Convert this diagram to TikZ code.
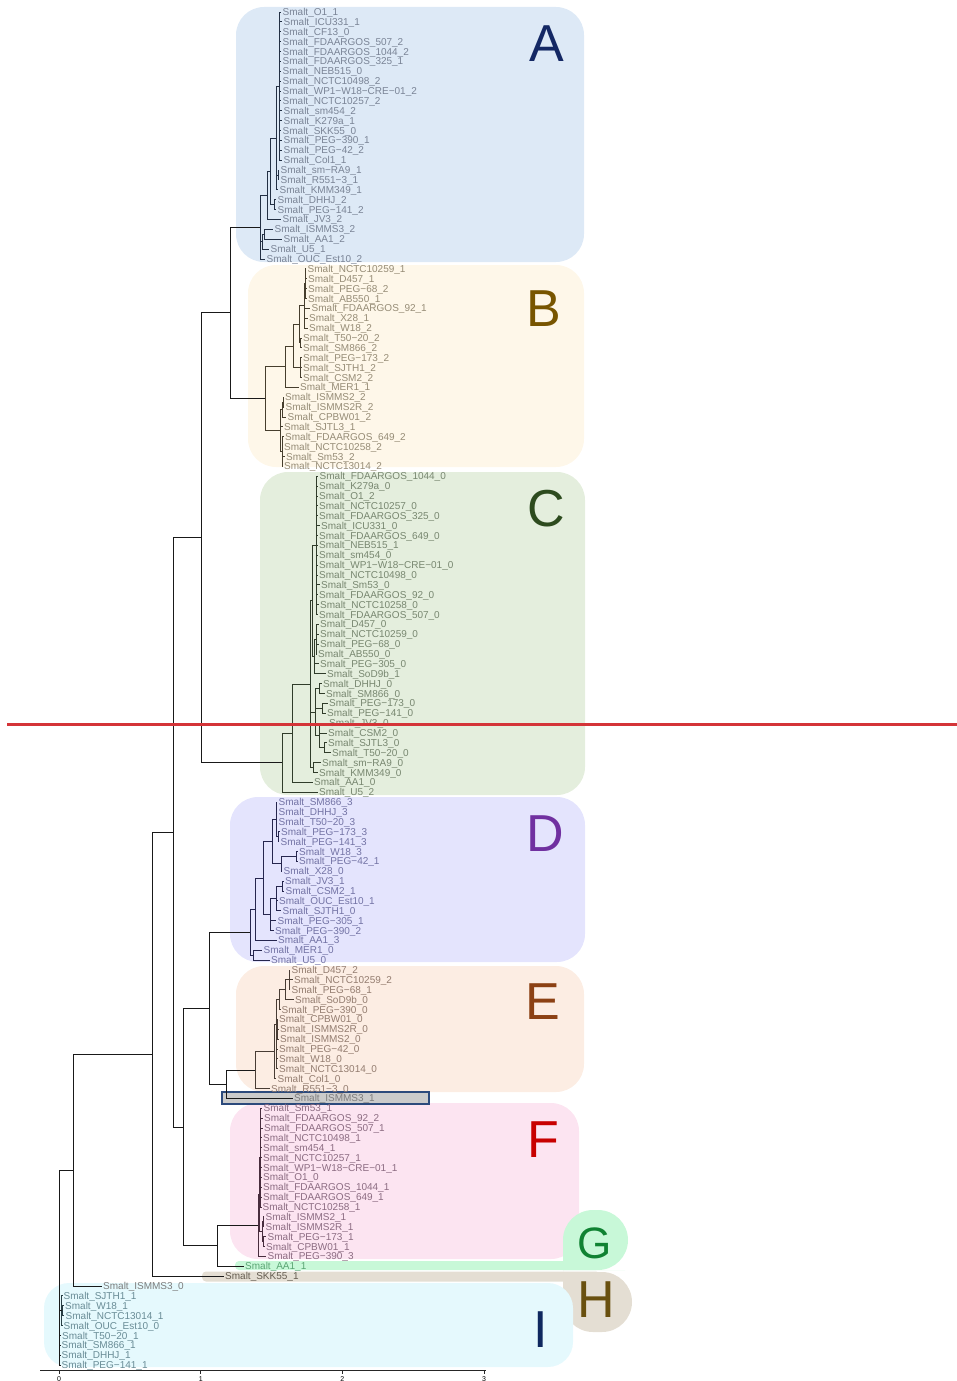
\documentclass[tikz,border=0pt]{standalone}
\usepackage{fontspec}
\setmainfont{Liberation Sans}
\usetikzlibrary{calc}
\definecolor{bgA}{RGB}{221,233,246}\definecolor{bgB}{RGB}{254,247,233}
\definecolor{bgC}{RGB}{228,238,221}\definecolor{bgD}{RGB}{228,228,253}
\definecolor{bgE}{RGB}{252,237,227}\definecolor{bgF}{RGB}{252,228,241}
\definecolor{bgG}{RGB}{200,248,216}\definecolor{bgH}{RGB}{228,222,211}
\definecolor{bgI}{RGB}{229,249,253}
\definecolor{tA}{RGB}{122,132,150}\definecolor{tB}{RGB}{150,140,118}
\definecolor{tC}{RGB}{120,135,112}\definecolor{tD}{RGB}{115,115,165}
\definecolor{tE}{RGB}{148,125,112}\definecolor{tF}{RGB}{140,108,130}
\definecolor{tG}{RGB}{90,165,115}\definecolor{tH}{RGB}{100,92,80}
\definecolor{tI}{RGB}{105,140,150}\definecolor{tN}{RGB}{125,125,125}
\definecolor{lA}{RGB}{35,48,68}\definecolor{lB}{RGB}{70,62,45}
\definecolor{lC}{RGB}{48,60,42}\definecolor{lD}{RGB}{38,38,78}
\definecolor{lE}{RGB}{72,60,52}\definecolor{lF}{RGB}{72,45,62}
\definecolor{lG}{RGB}{20,70,35}\definecolor{lH}{RGB}{60,55,45}
\definecolor{lI}{RGB}{40,62,68}\definecolor{lN}{RGB}{25,25,25}
\definecolor{kA}{RGB}{20,40,100}\definecolor{kB}{RGB}{120,85,0}
\definecolor{kC}{RGB}{45,75,30}\definecolor{kD}{RGB}{112,48,160}
\definecolor{kE}{RGB}{140,65,20}\definecolor{kF}{RGB}{200,0,0}
\definecolor{kG}{RGB}{16,130,50}\definecolor{kH}{RGB}{105,80,15}
\definecolor{kI}{RGB}{15,40,95}
\definecolor{hlfill}{RGB}{203,203,203}\definecolor{hlborder}{RGB}{44,74,124}
\definecolor{redline}{RGB}{212,52,56}
\tikzset{
  lab/.style={font=\fontsize{10}{10}\selectfont,inner sep=0pt,anchor=base west},
  br/.style={line width=0.8pt,line join=miter},
  big/.style={font=\fontsize{52}{52}\selectfont,inner sep=0pt,anchor=center},
  tick/.style={font=\fontsize{7}{7}\selectfont,inner sep=0pt,anchor=north},
}
\newcommand\lf[4]{%
  \coordinate (L#1) at (#2,{12+9.876*#1});
  \node[lab,text=t#4] (T#1) at ([xshift=1.5pt,yshift=-3.6pt]L#1) {Smalt\_#3};}
\newcommand\nd[6]{%
  \path ($(#3)!.5!(#4)$) coordinate (m#1);
  \coordinate (#1) at (#2,0 |- m#1);
  \foreach \ch in {#5} {\draw[br,draw=l#6] (#1) |- (\ch);}}
\newcommand\ndr[5]{%
  \path ($(L#3)!.5!(L#4)$) coordinate (m#1);
  \coordinate (#1) at (#2,0 |- m#1);
  \foreach \ii in {#3,...,#4} {\draw[br,draw=l#5] (#1) |- (L\ii);}}
\begin{document}
\begin{tikzpicture}[x=1pt,y=-1pt]
\useasboundingbox (0,0) rectangle (957,1381);
% backgrounds
\fill[bgA,rounded corners=28] (236,7) rectangle (584,262);
\fill[bgB,rounded corners=28] (248,265) rectangle (584,467);
\fill[bgC,rounded corners=28] (260,472) rectangle (585,795);
\fill[bgD,rounded corners=28] (230,797) rectangle (585,962);
\fill[bgE,rounded corners=28] (236,966) rectangle (584,1092);
\fill[bgF,rounded corners=28] (230,1103) rectangle (579,1259);
\fill[bgG,rounded corners=4] (235,1261) rectangle (600,1270);
\fill[bgG] (563,1270) -- (563,1240) [rounded corners=30] -- (563,1210) -- (628,1210) -- (628,1270) -- (595,1270) [sharp corners] -- cycle;
\fill[bgH,rounded corners=4] (202,1271.5) rectangle (600,1281.5);
\fill[bgH] (563,1272) -- (600,1272) [rounded corners=30] -- (632,1272) -- (632,1332) -- (563,1332) -- (563,1300) [sharp corners] -- cycle;
\fill[bgI,rounded corners=25] (44,1283) rectangle (573,1367);
% highlight
\draw[hlborder,fill=hlfill,line width=2.6pt] (222,1092) rectangle (429,1104);
% leaves A
\lf{0}{281}{O1\_1}{A}
\lf{1}{282}{ICU331\_1}{A}
\lf{2}{281}{CF13\_0}{A}
\lf{3}{281}{FDAARGOS\_507\_2}{A}
\lf{4}{281}{FDAARGOS\_1044\_2}{A}
\lf{5}{281}{FDAARGOS\_325\_1}{A}
\lf{6}{281}{NEB515\_0}{A}
\lf{7}{281}{NCTC10498\_2}{A}
\lf{8}{281}{WP1−W18−CRE−01\_2}{A}
\lf{9}{281}{NCTC10257\_2}{A}
\lf{10}{282}{sm454\_2}{A}
\lf{11}{282}{K279a\_1}{A}
\lf{12}{281}{SKK55\_0}{A}
\lf{13}{282}{PEG−390\_1}{A}
\lf{14}{282}{PEG−42\_2}{A}
\lf{15}{282}{Col1\_1}{A}
\lf{16}{279}{sm−RA9\_1}{A}
\lf{17}{279}{R551−3\_1}{A}
\lf{18}{278}{KMM349\_1}{A}
\lf{19}{276}{DHHJ\_2}{A}
\lf{20}{276}{PEG−141\_2}{A}
\lf{21}{281}{JV3\_2}{A}
\lf{22}{273}{ISMMS3\_2}{A}
\lf{23}{282}{AA1\_2}{A}
\lf{24}{269}{U5\_1}{A}
\lf{25}{265}{OUC\_Est10\_2}{A}
% B
\lf{26}{306}{NCTC10259\_1}{B}
\lf{27}{306.5}{D457\_1}{B}
\lf{28}{306.5}{PEG−68\_2}{B}
\lf{29}{306.5}{AB550\_1}{B}
\lf{30}{310}{FDAARGOS\_92\_1}{B}
\lf{31}{307.5}{X28\_1}{B}
\lf{32}{307.5}{W18\_2}{B}
\lf{33}{301.5}{T50−20\_2}{B}
\lf{34}{301.5}{SM866\_2}{B}
\lf{35}{301.5}{PEG−173\_2}{B}
\lf{36}{301.5}{SJTH1\_2}{B}
\lf{37}{301.5}{CSM2\_2}{B}
\lf{38}{298.5}{MER1\_1}{B}
\lf{39}{283.5}{ISMMS2\_2}{B}
\lf{40}{284}{ISMMS2R\_2}{B}
\lf{41}{286}{CPBW01\_2}{B}
\lf{42}{282.5}{SJTL3\_1}{B}
\lf{43}{283.5}{FDAARGOS\_649\_2}{B}
\lf{44}{282.5}{NCTC10258\_2}{B}
\lf{45}{284.5}{Sm53\_2}{B}
\lf{46}{282.5}{NCTC13014\_2}{B}
% C
\lf{47}{318}{FDAARGOS\_1044\_0}{C}
\lf{48}{317.5}{K279a\_0}{C}
\lf{49}{317.5}{O1\_2}{C}
\lf{50}{317.5}{NCTC10257\_0}{C}
\lf{51}{317.5}{FDAARGOS\_325\_0}{C}
\lf{52}{319.5}{ICU331\_0}{C}
\lf{53}{317.5}{FDAARGOS\_649\_0}{C}
\lf{54}{317.5}{NEB515\_1}{C}
\lf{55}{317.5}{sm454\_0}{C}
\lf{56}{317.5}{WP1−W18−CRE−01\_0}{C}
\lf{57}{317.5}{NCTC10498\_0}{C}
\lf{58}{319.5}{Sm53\_0}{C}
\lf{59}{317.5}{FDAARGOS\_92\_0}{C}
\lf{60}{318.5}{NCTC10258\_0}{C}
\lf{61}{317.5}{FDAARGOS\_507\_0}{C}
\lf{62}{318.5}{D457\_0}{C}
\lf{63}{318.5}{NCTC10259\_0}{C}
\lf{64}{318.5}{PEG−68\_0}{C}
\lf{65}{316.5}{AB550\_0}{C}
\lf{66}{318.5}{PEG−305\_0}{C}
\lf{67}{325.5}{SoD9b\_1}{C}
\lf{68}{321.5}{DHHJ\_0}{C}
\lf{69}{324.5}{SM866\_0}{C}
\lf{70}{327.5}{PEG−173\_0}{C}
\lf{71}{325.5}{PEG−141\_0}{C}
\lf{72}{327.5}{JV3\_0}{C}
\lf{73}{326.5}{CSM2\_0}{C}
\lf{74}{326.5}{SJTL3\_0}{C}
\lf{75}{330.5}{T50−20\_0}{C}
\lf{76}{320.5}{sm−RA9\_0}{C}
\lf{77}{317.5}{KMM349\_0}{C}
\lf{78}{312.5}{AA1\_0}{C}
\lf{79}{317.5}{U5\_2}{C}
% D
\lf{80}{277}{SM866\_3}{D}
\lf{81}{277}{DHHJ\_3}{D}
\lf{82}{277}{T50−20\_3}{D}
\lf{83}{279.5}{PEG−173\_3}{D}
\lf{84}{279}{PEG−141\_3}{D}
\lf{85}{297.5}{W18\_3}{D}
\lf{86}{297.5}{PEG−42\_1}{D}
\lf{87}{282}{X28\_0}{D}
\lf{88}{283.5}{JV3\_1}{D}
\lf{89}{284}{CSM2\_1}{D}
\lf{90}{277.5}{OUC\_Est10\_1}{D}
\lf{91}{281}{SJTH1\_0}{D}
\lf{92}{276}{PEG−305\_1}{D}
\lf{93}{273.5}{PEG−390\_2}{D}
\lf{94}{276.5}{AA1\_3}{D}
\lf{95}{262}{MER1\_0}{D}
\lf{96}{269.5}{U5\_0}{D}
% E
\lf{97}{290}{D457\_2}{E}
\lf{98}{292.5}{NCTC10259\_2}{E}
\lf{99}{290}{PEG−68\_1}{E}
\lf{100}{293.5}{SoD9b\_0}{E}
\lf{101}{280}{PEG−390\_0}{E}
\lf{102}{277.5}{CPBW01\_0}{E}
\lf{103}{278.5}{ISMMS2R\_0}{E}
\lf{104}{278.5}{ISMMS2\_0}{E}
\lf{105}{277.5}{PEG−42\_0}{E}
\lf{106}{277.5}{W18\_0}{E}
\lf{107}{277.5}{NCTC13014\_0}{E}
\lf{108}{276}{Col1\_0}{E}
\lf{109}{269.5}{R551−3\_0}{E}
\lf{110}{292.5}{ISMMS3\_1}{N}
% F
\lf{111}{262}{Sm53\_1}{F}
\lf{112}{262.5}{FDAARGOS\_92\_2}{F}
\lf{113}{262.5}{FDAARGOS\_507\_1}{F}
\lf{114}{261.5}{NCTC10498\_1}{F}
\lf{115}{261.5}{sm454\_1}{F}
\lf{116}{261.5}{NCTC10257\_1}{F}
\lf{117}{261.5}{WP1−W18−CRE−01\_1}{F}
\lf{118}{261.5}{O1\_0}{F}
\lf{119}{261.5}{FDAARGOS\_1044\_1}{F}
\lf{120}{261.5}{FDAARGOS\_649\_1}{F}
\lf{121}{261}{NCTC10258\_1}{F}
\lf{122}{264}{ISMMS2\_1}{F}
\lf{123}{264}{ISMMS2R\_1}{F}
\lf{124}{266}{PEG−173\_1}{F}
\lf{125}{264.5}{CPBW01\_1}{F}
\lf{126}{266}{PEG−390\_3}{F}
\lf{127}{243.5}{AA1\_1}{G}
\lf{128}{223.5}{SKK55\_1}{H}
\lf{129}{101.5}{ISMMS3\_0}{N}
% I
\lf{130}{62}{SJTH1\_1}{I}
\lf{131}{63.5}{W18\_1}{I}
\lf{132}{64}{NCTC13014\_1}{I}
\lf{133}{62}{OUC\_Est10\_0}{I}
\lf{134}{60.5}{T50−20\_1}{I}
\lf{135}{60}{SM866\_1}{I}
\lf{136}{60}{DHHJ\_1}{I}
\lf{137}{60}{PEG−141\_1}{I}
% internal A
\ndr{aT}{279.5}{0}{15}{A}
\nd{aR}{278}{L16}{L17}{L16,L17}{A}
\nd{aThree}{276.5}{aT}{L18}{aT,aR,L18}{A}
\nd{aDP}{274.5}{L19}{L20}{L19,L20}{A}
\nd{aFour}{270}{aThree}{aDP}{aThree,aDP}{A}
\nd{aFive}{267.5}{aFour}{L21}{aFour,L21}{A}
\nd{aSix}{264}{L22}{L23}{L22,L23}{A}
\nd{aSeven}{262}{aSix}{L24}{aSix,L24}{A}
\nd{aRoot}{260}{aFive}{L25}{aFive,aSeven,L25}{A}
% internal B
\nd{bFa}{305}{L26}{L29}{L26,L27,L28,L29}{B}
\nd{bF}{304}{bFa}{L32}{bFa,L30,L31,L32}{B}
\nd{bS}{300.5}{L33}{L34}{L33,L34}{B}
\nd{bThree}{299}{bF}{bS}{bF,bS}{B}
\nd{bFour}{300}{L35}{L37}{L35,L36,L37}{B}
\nd{bTwo}{293}{bThree}{bFour}{bThree,bFour}{B}
\nd{bOne}{285}{bTwo}{L38}{bTwo,L38}{B}
\nd{bEa}{283}{L39}{L40}{L39,L40}{B}
\nd{bE}{282}{bEa}{L41}{bEa,L41}{B}
\nd{bN}{282}{L43}{L46}{L43,L44,L45,L46}{B}
\nd{bSeven}{280.5}{bE}{bN}{bE,L42,bN}{B}
\nd{bRoot}{265}{bOne}{bSeven}{bOne,bSeven}{B}
% internal C
\ndr{cSix}{316.5}{47}{61}{C}
\nd{cEight}{316}{L62}{L65}{L62,L63,L64,L65}{C}
\nd{cSeven}{314}{cEight}{L67}{cEight,L66,L67}{C}
\nd{cThree}{312}{cSix}{cSeven}{cSix,cSeven}{C}
\nd{cNine}{319}{L68}{L69}{L68,L69}{C}
\nd{cTen}{322}{L70}{L71}{L70,L71}{C}
\nd{cTwelve}{324}{L74}{L75}{L74,L75}{C}
\nd{cEleven}{319}{L72}{cTwelve}{L72,L73,cTwelve}{C}
\nd{cFour}{315}{cNine}{cEleven}{cNine,cTen,cEleven}{C}
\nd{cFive}{313}{L76}{L77}{L76,L77}{C}
\nd{cTwo}{310.5}{cThree}{cFive}{cThree,cFour,cFive}{C}
\nd{cOne}{292}{cTwo}{L78}{cTwo,L78}{C}
\nd{cRoot}{282}{cOne}{L79}{cOne,L79}{C}
% internal D
\nd{dSa}{278}{L83}{L84}{L83,L84}{D}
\nd{dS}{276}{L80}{dSa}{L80,L81,L82,dSa}{D}
\nd{dE}{296.5}{L85}{L86}{L85,L86}{D}
\nd{dSeven}{281}{dE}{L87}{dE,L87}{D}
\nd{dFour}{272}{dS}{dSeven}{dS,dSeven}{D}
\nd{dTen}{282}{L88}{L89}{L88,L89}{D}
\nd{dEleven}{276.5}{dTen}{L91}{dTen,L90,L91}{D}
\nd{dFive}{270}{dEleven}{L93}{dEleven,L92,L93}{D}
\nd{dThree}{263}{dFour}{dFive}{dFour,dFive}{D}
\nd{dOne}{255.5}{dThree}{L94}{dThree,L94}{D}
\nd{dTwo}{253}{L95}{L96}{L95,L96}{D}
\nd{dRoot}{250}{dOne}{dTwo}{dOne,dTwo}{D}
% internal E
\nd{eFive}{289}{L97}{L99}{L97,L98,L99}{E}
\nd{eFour}{285.5}{eFive}{L100}{eFive,L100}{E}
\nd{eTwo}{279.5}{eFour}{L101}{eFour,L101}{E}
\nd{eEight}{277}{L102}{L104}{L102,L103,L104}{E}
\nd{eSeven}{276.5}{eEight}{L107}{eEight,L105,L106,L107}{E}
\nd{eSix}{276}{eTwo}{eSeven}{eTwo,eSeven}{E}
\nd{eOne}{274}{eSix}{L108}{eSix,L108}{E}
\nd{eRoot}{255}{eOne}{L109}{eOne,L109}{E}
\nd{nE}{226}{eRoot}{L110}{eRoot,L110}{N}
% internal F
\ndr{fFive}{260.5}{111}{121}{F}
\nd{fThree}{263}{L122}{L123}{L122,L123}{F}
\nd{fFour}{263.5}{L124}{L125}{L124,L125}{F}
\nd{fTwo}{262}{fThree}{fFour}{fThree,fFour}{F}
\nd{fOne}{259.5}{fFive}{fTwo}{fFive,fTwo}{F}
\nd{fRoot}{258}{fOne}{L126}{fOne,L126}{F}
\nd{nF}{217}{fRoot}{L127}{fRoot,L127}{N}
% backbone
\nd{nAB}{230}{aRoot}{bRoot}{aRoot,bRoot}{N}
\nd{nABC}{201}{nAB}{cRoot}{nAB,cRoot}{N}
\nd{nDE}{209}{dRoot}{nE}{dRoot,nE}{N}
\nd{nDF}{183}{nDE}{nF}{nDE,nF}{N}
\nd{nAF}{173}{nABC}{nDF}{nABC,nDF}{N}
\nd{nAH}{152}{nAF}{L128}{nAF,L128}{N}
\nd{nAS}{73}{nAH}{L129}{nAH,L129}{N}
\nd{iTwo}{62.5}{L131}{L132}{L131,L132}{I}
\nd{iOne}{61.5}{L130}{L133}{L130,iTwo,L133}{I}
\nd{root}{59.5}{nAS}{L137}{nAS,iOne,L134,L135,L136,L137}{N}
% clade letters
\node[big,text=kA] (LA) at (547,43.5) {A};
\node[big,text=kB] (LB) at (544,308.5) {B};
\node[big,text=kC] (LC) at (546,509) {C};
\node[big,text=kD] (LD) at (545,834) {D};
\node[big,text=kE] (LE) at (543,1002) {E};
\node[big,text=kF] (LF) at (543,1140) {F};
\node[big,text=kG,font=\fontsize{44}{44}\selectfont] (LG) at (595,1243) {G};
\node[big,text=kH] (LH) at (596,1300) {H};
\node[big,text=kI] (LI) at (541,1330) {I};
% red line
\coordinate (rlA) at (7,724.5);
\coordinate (rlB) at (957,724.5);
\draw[redline,line width=3.4pt] (rlA) -- (rlB);
% axis
\coordinate (axA) at (40,1370);
\coordinate (axB) at (486,1370);
\draw[line width=0.7pt,black!85] (axA) -- (axB);
\foreach \v in {0,1,2,3} {
  \coordinate (tk\v) at ({59+141.7*\v},1370);
  \draw[line width=0.6pt,black!85] (tk\v) -- ++(0,4);
  \node[tick] (tl\v) at ([yshift=-6pt]tk\v) {\v};
}
\end{tikzpicture}
\end{document}
